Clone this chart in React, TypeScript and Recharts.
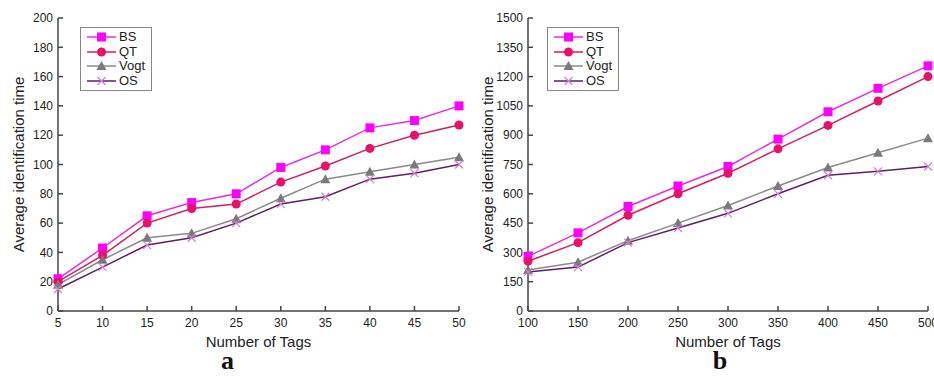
import React from "react"
import { Label, Legend, Line, LineChart, XAxis, YAxis } from "recharts"

// chart a
const tagsA = [5, 10, 15, 20, 25, 30, 35, 40, 45, 50]
const bsA = [22, 43, 65, 74, 80, 98, 110, 125, 130, 140]
const qtA = [20, 38, 60, 70, 73, 88, 99, 111, 120, 127]
const vogtA = [18, 35, 50, 53, 63, 77, 90, 95, 100, 105]
const osA = [15, 30, 45, 50, 60, 73, 78, 90, 94, 100]
const yTicksA = [0, 20, 40, 60, 80, 100, 120, 140, 160, 180, 200]

// chart b
const tagsB = [100, 150, 200, 250, 300, 350, 400, 450, 500]
const bsB = [280, 400, 535, 640, 740, 880, 1020, 1140, 1255]
const qtB = [255, 350, 490, 600, 705, 830, 950, 1075, 1200]
const vogtB = [210, 250, 360, 450, 540, 640, 735, 810, 885]
const osB = [200, 225, 350, 425, 500, 600, 695, 715, 740]
const yTicksB = [0, 150, 300, 450, 600, 750, 900, 1050, 1200, 1350, 1500]

const seriesNames = ["BS", "QT", "Vogt", "OS"]

type Shape = "square" | "circle" | "triangle" | "cross"

const styles: Record<string, { line: string; mark: string; shape: Shape }> = {
  BS: { line: "#e030e0", mark: "#ff00ff", shape: "square" },
  QT: { line: "#d0205e", mark: "#e8106a", shape: "circle" },
  Vogt: { line: "#8a8a8a", mark: "#7a7a7a", shape: "triangle" },
  OS: { line: "#5e1f66", mark: "#d080d0", shape: "cross" },
}

const FONT = "'Liberation Sans', Arial, sans-serif"
const AXIS = "#444"

function buildRows(tags: number[], bs: number[], qt: number[], vogt: number[], os: number[]) {
  return tags.map((t, i) => ({ tags: t, BS: bs[i], QT: qt[i], Vogt: vogt[i], OS: os[i] }))
}

function Marker({ cx, cy, shape, color }: { cx?: number; cy?: number; shape: Shape; color: string }) {
  if (cx == null || cy == null) return null
  if (shape === "square")
    return <rect x={cx - 4.5} y={cy - 4.5} width={9} height={9} fill={color} />
  if (shape === "circle") return <circle cx={cx} cy={cy} r={4.5} fill={color} />
  if (shape === "triangle")
    return (
      <polygon
        points={`${cx},${cy - 5} ${cx - 5},${cy + 4} ${cx + 5},${cy + 4}`}
        fill={color}
      />
    )
  return (
    <path
      d={`M${cx - 4},${cy - 4}L${cx + 4},${cy + 4}M${cx - 4},${cy + 4}L${cx + 4},${cy - 4}`}
      stroke={color}
      strokeWidth={1.2}
      fill="none"
    />
  )
}

function LegendBox() {
  return (
    <div
      style={{
        border: "1px solid #888",
        background: "#fff",
        padding: "2px 6px 2px 5px",
        fontFamily: FONT,
        fontSize: 13,
        lineHeight: "14.5px",
        color: "#222",
      }}
    >
      {seriesNames.map((n) => (
        <div key={n} style={{ display: "flex", alignItems: "center" }}>
          <svg width={31} height={12} style={{ marginRight: 2 }}>
            <line x1={1} y1={6} x2={30} y2={6} stroke={styles[n].line} strokeWidth={1.5} />
            <Marker cx={15.5} cy={6} shape={styles[n].shape} color={styles[n].mark} />
          </svg>
          <span>{n}</span>
        </div>
      ))}
    </div>
  )
}

interface PanelProps {
  rows: Array<Record<string, number>>
  xTicks: number[]
  yTicks: number[]
  yMax: number
  yAxisWidth: number
  marginRight: number
  letter: string
  letterShift: number
  yLabelX: number
}

function Panel({ rows, xTicks, yTicks, yMax, yAxisWidth, marginRight, letter, letterShift, yLabelX }: PanelProps) {
  const xDomain = [xTicks[0], xTicks[xTicks.length - 1]]
  const tickStyle = { fontSize: 12, fontFamily: FONT, fill: "#222" }
  return (
    <LineChart
      width={467}
      height={376}
      data={rows}
      margin={{ top: 18, right: marginRight, bottom: 35, left: 8 }}
    >
      <XAxis
        dataKey="tags"
        type="number"
        domain={xDomain}
        ticks={xTicks}
        interval={0}
        height={30}
        tickSize={-5}
        tickMargin={12}
        tick={tickStyle}
        axisLine={{ stroke: AXIS, strokeWidth: 1.5 }}
        tickLine={{ stroke: AXIS, strokeWidth: 1.5 }}
        label={
          <Label
            content={({ viewBox }: any) => {
              const cx = viewBox.x + viewBox.width / 2
              return (
                <g>
                  <text x={cx} y={347} textAnchor="middle" fontFamily={FONT} fontSize={15} fill="#222">
                    Number of Tags
                  </text>
                  <text
                    x={cx + letterShift}
                    y={369}
                    textAnchor="middle"
                    fontFamily="'Liberation Serif', 'Times New Roman', serif"
                    fontWeight="bold"
                    fontSize={26}
                    fill="#111"
                  >
                    {letter}
                  </text>
                </g>
              )
            }}
          />
        }
      />
      <XAxis
        xAxisId="top"
        dataKey="tags"
        type="number"
        orientation="top"
        domain={xDomain}
        ticks={xTicks}
        interval={0}
        height={0}
        tickSize={-5}
        tick={false}
        axisLine={{ stroke: AXIS, strokeWidth: 1.5 }}
        tickLine={{ stroke: AXIS, strokeWidth: 1.5 }}
      />
      <YAxis
        domain={[0, yMax]}
        ticks={yTicks}
        interval={0}
        width={yAxisWidth}
        tickSize={-5}
        tickMargin={10}
        tick={tickStyle}
        axisLine={{ stroke: AXIS, strokeWidth: 1.5 }}
        tickLine={{ stroke: AXIS, strokeWidth: 1.5 }}
        label={
          <Label
            content={({ viewBox }: any) => {
              const cy = viewBox.y + viewBox.height / 2
              return (
                <text
                  x={yLabelX}
                  y={cy}
                  transform={`rotate(-90 ${yLabelX} ${cy})`}
                  textAnchor="middle"
                  dominantBaseline="central"
                  fontFamily={FONT}
                  fontSize={15}
                  fill="#222"
                >
                  Average identification time
                </text>
              )
            }}
          />
        }
      />
      <YAxis
        yAxisId="right"
        orientation="right"
        domain={[0, yMax]}
        ticks={yTicks}
        interval={0}
        width={0}
        tickSize={-5}
        tick={false}
        axisLine={{ stroke: AXIS, strokeWidth: 1.5 }}
        tickLine={{ stroke: AXIS, strokeWidth: 1.5 }}
      />
      <Legend
        layout="vertical"
        align="center"
        verticalAlign="middle"
        wrapperStyle={{ left: 80, top: 27, width: "auto" }}
        content={() => <LegendBox />}
      />
      {seriesNames.map((n) => (
        <Line
          key={n}
          dataKey={n}
          name={n}
          type="linear"
          stroke={styles[n].line}
          strokeWidth={1.5}
          isAnimationActive={false}
          dot={(p: any) => (
            <Marker key={`${n}-${p.index}`} cx={p.cx} cy={p.cy} shape={styles[n].shape} color={styles[n].mark} />
          )}
          activeDot={false}
        />
      ))}
    </LineChart>
  )
}

export default function App() {
  const rowsA = buildRows(tagsA, bsA, qtA, vogtA, osA)
  const rowsB = buildRows(tagsB, bsB, qtB, vogtB, osB)
  return (
    <div
      style={{
        position: "absolute",
        left: 0,
        top: 0,
        width: 934,
        height: 376,
        background: "#fff",
        display: "flex",
        overflow: "hidden",
      }}
    >
      <Panel
        rows={rowsA}
        xTicks={tagsA}
        yTicks={yTicksA}
        yMax={200}
        yAxisWidth={50}
        marginRight={8}
        letter="a"
        letterShift={-31}
        yLabelX={18}
      />
      <Panel
        rows={rowsB}
        xTicks={tagsB}
        yTicks={yTicksB}
        yMax={1500}
        yAxisWidth={53}
        marginRight={6}
        letter="b"
        letterShift={-8}
        yLabelX={20}
      />
    </div>
  )
}
